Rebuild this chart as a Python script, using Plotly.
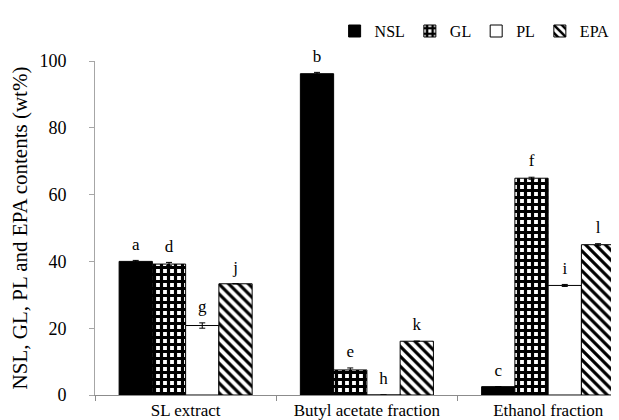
import plotly.graph_objects as go

categories = ["SL extract", "Butyl acetate fraction", "Ethanol fraction"]
series_names = ["NSL", "GL", "PL", "EPA"]
nsl = [40.0, 96.2, 2.5]
gl = [39.2, 7.5, 64.9]
pl = [20.8, 0.0, 32.8]
epa = [33.3, 16.1, 45.0]
nsl_err = [0.3, 0.4, 0.0]
gl_err = [0.5, 0.6, 0.3]
pl_err = [0.8, 0.0, 0.3]
epa_err = [0.0, 0.0, 0.3]
nsl_letters = ["a", "b", "c"]
gl_letters = ["d", "e", "f"]
pl_letters = ["g", "h", "i"]
epa_letters = ["j", "k", "l"]
y_ticks = [0, 20, 40, 60, 80, 100]

FONT = "Liberation Serif, Times New Roman, serif"

styles = {
    "NSL": dict(color="black", pattern=None),
    "GL": dict(color="white", pattern=dict(shape="+", fgcolor="black", bgcolor="white", size=7, solidity=0.7, fillmode="replace")),
    "PL": dict(color="white", pattern=None),
    "EPA": dict(color="white", pattern=dict(shape="\\", fgcolor="black", bgcolor="white", size=7, solidity=0.45, fillmode="replace")),
}

BARGAP = 0.266

fig = go.Figure()
series = [
    ("NSL", nsl, nsl_err, nsl_letters),
    ("GL", gl, gl_err, gl_letters),
    ("PL", pl, pl_err, pl_letters),
    ("EPA", epa, epa_err, epa_letters),
]
for name, vals, errs, letters in series:
    st = styles[name]
    marker = dict(color=st["color"], line=dict(color="black", width=1))
    if st["pattern"]:
        marker["pattern"] = st["pattern"]
    fig.add_trace(go.Bar(
        name=name, x=categories, y=vals, marker=marker, offsetgroup=name,
        error_y=dict(type="data", array=errs, color="black", thickness=1, width=3),
        cliponaxis=False,
    ))
for name, vals, errs, letters in series:
    fig.add_trace(go.Scatter(
        x=categories, y=[v + e for v, e in zip(vals, errs)], offsetgroup=name,
        mode="markers+text", text=letters, textposition="top center",
        marker=dict(size=9, opacity=0, color="white"),
        textfont=dict(family=FONT, size=17, color="black"),
        showlegend=False, hoverinfo="skip", cliponaxis=False,
    ))

fig.update_layout(
    width=619, height=420,
    margin=dict(l=87, r=0, t=53, b=33, autoexpand=False),
    paper_bgcolor="white", plot_bgcolor="white",
    barmode="group", bargap=BARGAP, bargroupgap=0,
    scattermode="group", scattergap=BARGAP,
    font=dict(family=FONT, size=18, color="black"),
    legend=dict(orientation="h", xref="container", yref="container",
                x=0.98, xanchor="right", y=0.945, yanchor="middle",
                font=dict(family=FONT, size=16, color="black"),
                itemwidth=30, tracegroupgap=0, bgcolor="rgba(0,0,0,0)"),
    showlegend=True,
)
fig.update_xaxes(
    range=[-0.5, 2.435], showline=True, linecolor="#8c8c8c", linewidth=1,
    ticks="outside", ticklen=5, tickcolor="#8c8c8c", tickson="boundaries",
    showgrid=False, ticklabelstandoff=0, automargin=False,
    tickfont=dict(family=FONT, size=17, color="black"),
)
fig.update_yaxes(
    range=[0, 100], tickvals=y_ticks, showline=True, linecolor="#a6a6a6", linewidth=1,
    ticks="outside", ticklen=5, tickcolor="#a6a6a6", showgrid=False, zeroline=False,
    ticklabelstandoff=19, automargin=False,
    tickfont=dict(family=FONT, size=18, color="black"),
    title=dict(text="NSL, GL, PL and EPA contents (wt%)", standoff=10,
               font=dict(family=FONT, size=21, color="black")),
)

fig.write_html("out.html")
